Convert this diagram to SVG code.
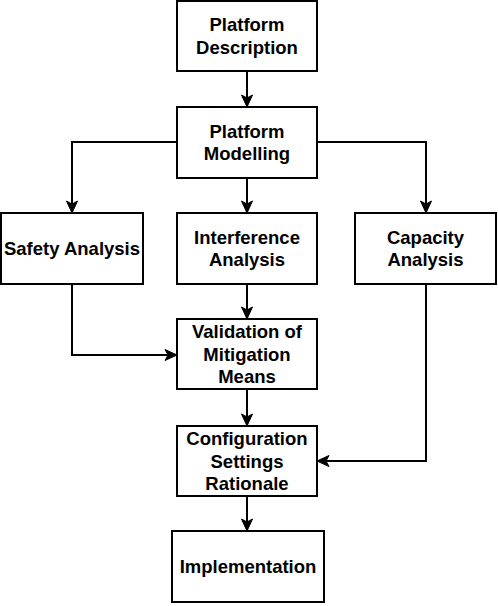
<svg xmlns="http://www.w3.org/2000/svg" width="498" height="606" viewBox="0 0 498 606">
<style>
.box{fill:#fff;stroke:#000;stroke-width:2}
.lbl{font-family:"Liberation Sans",Arial,sans-serif;font-weight:bold;font-size:18.5px;text-anchor:middle;fill:#000}
.edge{fill:none;stroke:#000;stroke-width:2}
</style>
<defs>
<marker id="arr" markerUnits="userSpaceOnUse" markerWidth="14" markerHeight="14" viewBox="0 0 14 14" refX="13" refY="7" orient="auto">
<path d="M1,1.5 L13,7 L1,12.5 L4,7 Z" fill="#000" stroke="#000" stroke-width="1"/>
</marker>
</defs>
<rect width="498" height="606" fill="#fff"/>
<g id="connectors">
<path class="edge" d="M247,71 L247,107" marker-end="url(#arr)"/>
<path class="edge" d="M177,142 L72,142 L72,213" marker-end="url(#arr)"/>
<path class="edge" d="M247,178 L247,213" marker-end="url(#arr)"/>
<path class="edge" d="M317,142 L426,142 L426,213" marker-end="url(#arr)"/>
<path class="edge" d="M72,284 L72,355 L177,355" marker-end="url(#arr)"/>
<path class="edge" d="M247,284 L247,319" marker-end="url(#arr)"/>
<path class="edge" d="M426,284 L426,461 L317,461" marker-end="url(#arr)"/>
<path class="edge" d="M247,389 L247,426" marker-end="url(#arr)"/>
<path class="edge" d="M247,496 L247,531" marker-end="url(#arr)"/>
</g>
<g id="platform-description">
<rect class="box" x="177" y="1" width="140" height="70"/>
<text class="lbl" x="247" y="31.4">Platform</text>
<text class="lbl" x="247" y="53.9">Description</text>
</g>
<g id="platform-modelling">
<rect class="box" x="177" y="107" width="140" height="71"/>
<text class="lbl" x="247" y="137.9">Platform</text>
<text class="lbl" x="247" y="160.4">Modelling</text>
</g>
<g id="safety-analysis">
<rect class="box" x="1" y="213" width="142" height="71"/>
<text class="lbl" x="72" y="255">Safety Analysis</text>
</g>
<g id="interference-analysis">
<rect class="box" x="177" y="213" width="140" height="71"/>
<text class="lbl" x="247" y="243.9">Interference</text>
<text class="lbl" x="247" y="266.4">Analysis</text>
</g>
<g id="capacity-analysis">
<rect class="box" x="355" y="213" width="141" height="71"/>
<text class="lbl" x="425.5" y="243.9">Capacity</text>
<text class="lbl" x="425.5" y="266.4">Analysis</text>
</g>
<g id="validation">
<rect class="box" x="177" y="319" width="140" height="70"/>
<text class="lbl" x="247" y="338.1">Validation of</text>
<text class="lbl" x="247" y="360.6">Mitigation</text>
<text class="lbl" x="247" y="383.1">Means</text>
</g>
<g id="configuration">
<rect class="box" x="177" y="426" width="140" height="70"/>
<text class="lbl" x="247" y="445.1">Configuration</text>
<text class="lbl" x="247" y="467.6">Settings</text>
<text class="lbl" x="247" y="490.1">Rationale</text>
</g>
<g id="implementation">
<rect class="box" x="172" y="531" width="152" height="71"/>
<text class="lbl" x="248" y="573">Implementation</text>
</g>
</svg>
